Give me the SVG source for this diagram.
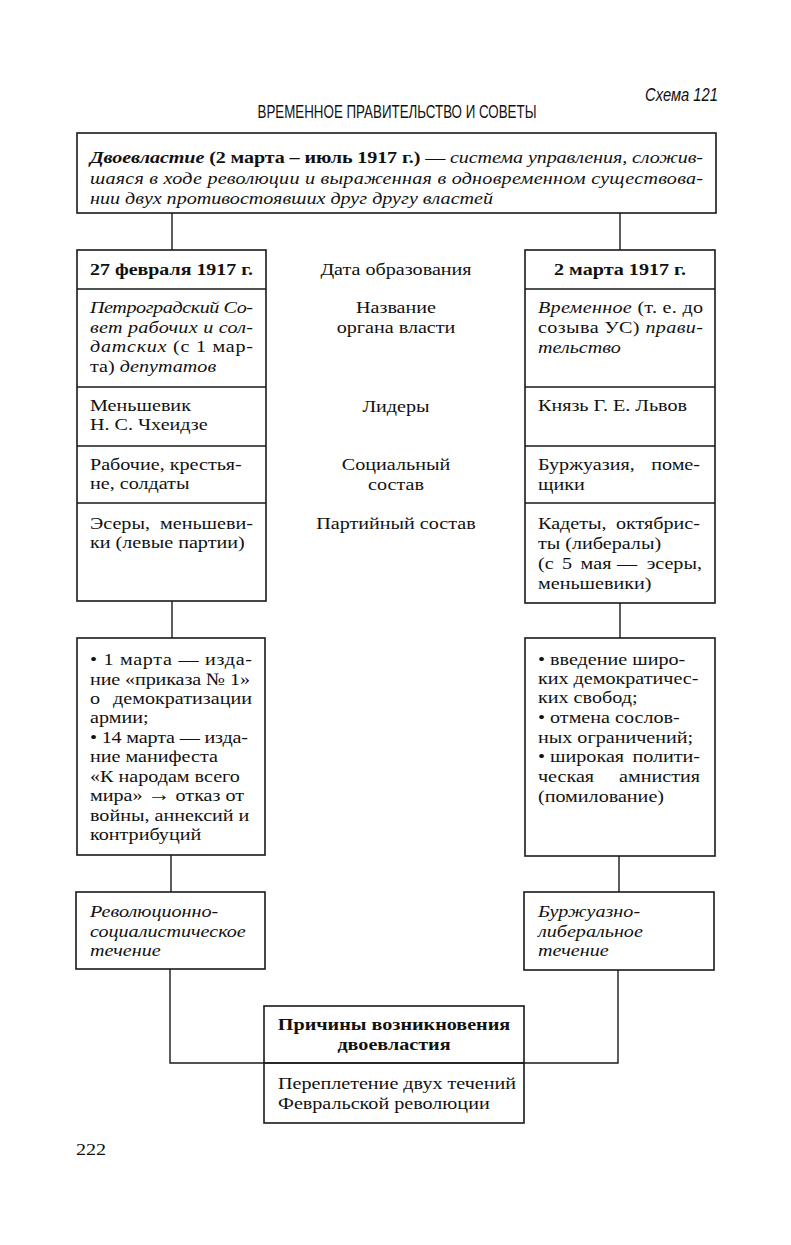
<svg xmlns="http://www.w3.org/2000/svg" width="791" height="1245" viewBox="0 0 791 1245">
<style>
.bg{fill:#ffffff}
.box{fill:none;stroke:#1a1a1a;stroke-width:1.6}
.ln{fill:none;stroke:#1a1a1a;stroke-width:1.4}
text{font-family:"Liberation Serif","Times New Roman",serif;font-size:17.5px;fill:#111}
.b{font-weight:bold}
.i{font-style:italic}
.c{text-anchor:middle}
.e{text-anchor:end}
.sans{font-family:"Liberation Sans",Arial,sans-serif}
</style>
<rect class="bg" x="0" y="0" width="791" height="1245"/>

<g id="header">
<text class="sans i" x="645" y="101" font-size="15" textLength="73" lengthAdjust="spacingAndGlyphs">Схема 121</text>
<text class="sans" x="397" y="118" text-anchor="middle" font-size="14" textLength="279" lengthAdjust="spacingAndGlyphs">ВРЕМЕННОЕ ПРАВИТЕЛЬСТВО И СОВЕТЫ</text>
</g>

<g id="connectors">
<path class="ln" d="M172,213 V250 M620,213 V250"/>
<path class="ln" d="M172,601 V638 M620,603 V638"/>
<path class="ln" d="M171,855 V892 M619,856 V892"/>
<path class="ln" d="M170,969 V1063 H618 V970"/>
</g>

<g id="definition">
<rect class="box" x="77" y="133" width="639" height="80"/>
<g transform="scale(1.15 1)">
<text x="78.26" y="163" textLength="533.04" lengthAdjust="spacing"><tspan class="b i">Двоевластие</tspan><tspan class="b"> (2 марта – июль 1917 г.)</tspan> — <tspan class="i">система управления, сложив-</tspan></text>
<text class="i" x="78.26" y="184" textLength="533.04" lengthAdjust="spacing">шаяся в ходе революции и выраженная в одновременном существова-</text>
<text class="i" x="78.26" y="204">нии двух противостоявших друг другу властей</text>
</g>
</g>

<g id="labels">
<g transform="scale(1.15 1)">
<text class="c" x="344.35" y="275">Дата образования</text>
<text class="c" x="344.35" y="313">Название</text>
<text class="c" x="344.35" y="333">органа власти</text>
<text class="c" x="344.35" y="412">Лидеры</text>
<text class="c" x="344.35" y="470">Социальный</text>
<text class="c" x="344.35" y="490">состав</text>
<text class="c" x="344.35" y="529">Партийный состав</text>
</g>
</g>

<g id="soviet">
<rect class="box" x="77" y="250" width="189" height="351"/>
<path class="box" d="M77,289 H266 M77,387 H266 M77,446 H266 M77,503 H266"/>
<g transform="scale(1.15 1)">
<text class="b" x="78.26" y="275" textLength="141.74" lengthAdjust="spacingAndGlyphs">27 февраля 1917 г.</text>
<text class="i" x="78.26" y="313" textLength="141.74" lengthAdjust="spacing">Петроградский Со-</text>
<text class="i" x="78.26" y="333" textLength="141.74" lengthAdjust="spacing">вет рабочих и сол-</text>
<text x="78.26" y="352" textLength="141.74" lengthAdjust="spacing"><tspan class="i">датских</tspan> (с 1 мар-</text>
<text x="78.26" y="372">та) <tspan class="i">депутатов</tspan></text>
<text x="78.26" y="411">Меньшевик</text>
<text x="78.26" y="430">Н. С. Чхеидзе</text>
<text x="78.26" y="470">Рабочие, крестья-</text>
<text x="78.26" y="489">не, солдаты</text>
<text x="78.26" y="529">Эсеры,</text>
<text class="e" x="220" y="529">меньшеви-</text>
<text x="78.26" y="548">ки (левые партии)</text>
</g>
</g>

<g id="government">
<rect class="box" x="525" y="250" width="190" height="353"/>
<path class="box" d="M525,289 H715 M525,387 H715 M525,446 H715 M525,503 H715"/>
<g transform="scale(1.15 1)">
<text class="b c" x="539.13" y="275">2 марта 1917 г.</text>
<text x="467.83" y="313" textLength="143.48" lengthAdjust="spacing"><tspan class="i">Временное</tspan> (т. е. до</text>
<text x="467.83" y="333" textLength="143.48" lengthAdjust="spacing">созыва УС) <tspan class="i">прави-</tspan></text>
<text class="i" x="467.83" y="353">тельство</text>
<text x="467.83" y="411">Князь Г. Е. Львов</text>
<text x="467.83" y="470">Буржуазия,</text>
<text class="e" x="608.7" y="470">поме-</text>
<text x="467.83" y="490">щики</text>
<text x="467.83" y="529">Кадеты,</text>
<text class="e" x="608.7" y="529">октябрис-</text>
<text x="467.83" y="549">ты (либералы)</text>
<text x="467.83" y="569" word-spacing="3">(с 5 мая</text>
<text class="e" x="610.43" y="569" word-spacing="4">— эсеры,</text>
<text x="467.83" y="589">меньшевики)</text>
</g>
</g>

<g id="soviet-actions">
<rect class="box" x="77" y="638" width="188" height="217"/>
<g transform="scale(1.15 1)">
<text x="78.26" y="665" textLength="140.87" lengthAdjust="spacing">• 1 марта — изда-</text>
<text x="78.26" y="685" textLength="139.13" lengthAdjust="spacing">ние «приказа № 1»</text>
<text x="78.26" y="704">о</text>
<text class="e" x="219.13" y="704">демократизации</text>
<text x="78.26" y="723">армии;</text>
<text x="78.26" y="743" textLength="137.39" lengthAdjust="spacing">• 14 марта — изда-</text>
<text x="78.26" y="762">ние манифеста</text>
<text x="78.26" y="782">«К народам всего</text>
<text x="78.26" y="801">мира» <tspan font-size="20">→</tspan> отказ от</text>
<text x="78.26" y="821">войны, аннексий и</text>
<text x="78.26" y="840">контрибуций</text>
</g>
</g>

<g id="government-actions">
<rect class="box" x="525" y="638" width="190" height="218"/>
<g transform="scale(1.15 1)">
<text x="467.83" y="665">• введение широ-</text>
<text x="467.83" y="684">ких демократичес-</text>
<text x="467.83" y="703">ких свобод;</text>
<text x="467.83" y="723">• отмена сослов-</text>
<text x="467.83" y="743">ных ограничений;</text>
<text x="467.83" y="762">• широкая</text>
<text class="e" x="608.7" y="762">полити-</text>
<text x="467.83" y="782">ческая</text>
<text class="e" x="608.7" y="782">амнистия</text>
<text x="467.83" y="802">(помилование)</text>
</g>
</g>

<g id="soviet-current">
<rect class="box" x="76" y="892" width="189" height="77"/>
<g transform="scale(1.15 1)">
<text class="i" x="78.26" y="917">Революционно-</text>
<text class="i" x="78.26" y="937">социалистическое</text>
<text class="i" x="78.26" y="956">течение</text>
</g>
</g>

<g id="government-current">
<rect class="box" x="524" y="892" width="190" height="78"/>
<g transform="scale(1.15 1)">
<text class="i" x="467.83" y="917">Буржуазно-</text>
<text class="i" x="467.83" y="937">либеральное</text>
<text class="i" x="467.83" y="956">течение</text>
</g>
</g>

<g id="causes">
<rect class="box" x="264" y="1006" width="260" height="117"/>
<path class="box" d="M264,1063 H524"/>
<g transform="scale(1.15 1)">
<text class="b c" x="342.61" y="1030">Причины возникновения</text>
<text class="b c" x="342.61" y="1050">двоевластия</text>
<text x="241.74" y="1089">Переплетение двух течений</text>
<text x="241.74" y="1109">Февральской революции</text>
</g>
</g>

<g id="page">
<text x="66.09" y="1155" transform="scale(1.15 1)">222</text>
</g>
</svg>
